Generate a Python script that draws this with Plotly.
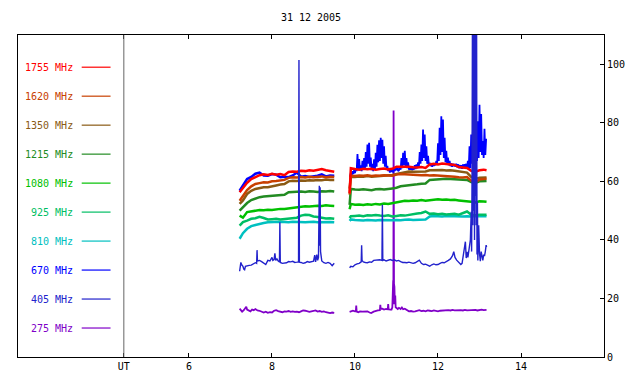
import numpy as np
import plotly.graph_objects as go

# ---------------- data ----------------
TITLE = "31 12 2005"
FREQ_LABELS = ["1755 MHz", "1620 MHz", "1350 MHz", "1215 MHz", "1080 MHz",
               "925 MHz", "810 MHz", "670 MHz", "405 MHz", "275 MHz"]
COLORS = ["#ff0000", "#c84000", "#8a5a14", "#228b22", "#00c000",
          "#00be64", "#00c0c0", "#0000ff", "#2222cc", "#8000c8"]
LEGEND_Y = [99.0, 89.1, 79.2, 69.3, 59.4, 49.5, 39.6, 29.7, 19.8, 9.9]

X_TICKS = [4.43, 6, 8, 10, 12, 14]
X_TICKTEXT = ["UT", "6", "8", "10", "12", "14"]
Y_TICKS = [0, 20, 40, 60, 80, 100]

T1 = [7.22, 7.3, 7.4, 7.5, 7.6, 7.7, 7.8, 7.9, 8.0, 8.1, 8.2, 8.3, 8.4, 8.5,
      8.6, 8.7, 8.8, 8.9, 9.0, 9.1, 9.2, 9.3, 9.4, 9.5]
T2 = [9.87, 9.9, 10.0, 10.1, 10.2, 10.3, 10.4, 10.5, 10.6, 10.7, 10.8, 10.9,
      11.0, 11.1, 11.2, 11.3, 11.4, 11.5, 11.6, 11.7, 11.8, 11.9,
      12.0, 12.1, 12.2, 12.3, 12.4, 12.5, 12.6, 12.7, 12.8, 12.9,
      13.0, 13.1, 13.17]

V1755_A = [56.3, 57.8, 59.5, 60.8, 61.5, 62.1, 62.4, 62.2, 62.6, 62.3, 62.5, 62.1,
           63.2, 63.4, 63.3, 63.6, 63.5, 63.8, 63.6, 63.9, 64.2, 63.8, 63.6, 63.3]
V1755_B = [56.0, 64.5, 64.2, 64.0, 64.3, 64.1, 64.3, 64.0, 64.2, 64.4, 64.1, 64.3,
           65.0, 65.0, 65.2, 65.0, 64.8, 64.7, 64.9, 64.6, 65.8, 66.0,
           65.8, 66.1, 65.9, 65.8, 65.6, 64.9, 64.7, 64.6, 63.6, 63.3,
           63.8, 64.0, 63.8]

V1620_A = [53.4, 55.0, 57.0, 58.3, 59.1, 59.4, 59.7, 59.6, 60.0, 60.1, 60.3, 60.5,
           61.2, 61.4, 61.3, 61.5, 61.3, 61.6, 61.4, 61.5, 61.7, 61.4, 61.6, 61.5]
V1620_B = [55.5, 61.9, 61.8, 62.0, 61.9, 62.1, 61.8, 62.0, 61.9, 62.1, 62.0, 61.9,
           62.3, 62.5, 62.4, 62.3, 62.2, 62.3, 62.1, 62.2, 62.0, 62.1,
           62.0, 61.9, 62.0, 61.8, 61.6, 61.4, 61.3, 61.5, 60.2, 59.7,
           60.6, 60.8, 60.9]

V1350_A = [52.3, 53.5, 55.7, 56.8, 57.4, 57.7, 58.0, 58.0, 58.4, 58.6, 58.9, 59.1,
           60.0, 60.2, 60.1, 60.3, 60.2, 60.4, 60.3, 60.5, 60.4, 60.6, 60.5, 60.5]
V1350_B = [57.5, 61.6, 61.5, 61.7, 61.6, 61.8, 61.6, 61.7, 61.9, 61.8, 62.0, 62.2,
           62.5, 62.8, 63.2, 63.4, 63.3, 63.4, 63.5, 63.4, 63.8, 63.9,
           63.8, 63.9, 63.7, 63.8, 63.6, 63.4, 63.3, 63.0, 61.5, 60.8,
           61.2, 61.4, 61.3]

V1215_A = [50.0, 51.2, 52.6, 53.6, 54.2, 54.6, 54.8, 54.9, 55.1, 55.0, 55.3, 55.4,
           56.3, 56.4, 56.3, 56.5, 56.4, 56.6, 56.5, 56.4, 56.6, 56.5, 56.7, 56.5]
V1215_B = [52.0, 57.4, 57.2, 57.1, 57.3, 57.2, 57.0, 57.3, 57.4, 57.2, 57.5, 57.6,
           57.8, 58.3, 58.5, 58.6, 58.8, 59.0, 59.2, 59.3, 60.5, 60.6,
           60.8, 60.7, 60.9, 60.8, 60.7, 60.8, 60.6, 60.5, 59.8, 59.5,
           60.0, 60.2, 60.1]

V1080_A = [48.3, 47.6, 49.5, 49.8, 50.0, 50.2, 50.1, 50.3, 50.2, 50.5, 50.6, 50.6,
           50.8, 51.0, 51.2, 51.4, 51.5, 51.4, 51.6, 51.7, 51.6, 51.8, 51.7, 51.6]
V1080_B = [50.5, 52.3, 52.0, 52.1, 51.9, 52.2, 52.0, 52.3, 52.1, 52.4, 52.3, 52.6,
           53.0, 53.2, 53.4, 53.3, 53.5, 53.4, 53.6, 53.4, 53.5, 53.6,
           53.9, 53.7, 53.8, 53.6, 53.7, 53.5, 53.4, 53.3, 53.0, 52.8,
           53.2, 53.1, 53.0]

V925_A = [44.9, 46.1, 46.6, 47.2, 47.4, 47.9, 47.5, 47.0, 47.1, 47.2, 47.0, 47.1,
          47.3, 47.5, 47.6, 48.3, 48.6, 48.5, 48.0, 47.8, 47.5, 47.3, 47.4, 47.2]
V925_B = [47.5, 48.1, 48.2, 48.3, 48.1, 48.4, 48.3, 48.5, 48.3, 48.2, 48.4, 48.0,
          48.2, 48.4, 48.3, 48.6, 48.8, 49.0, 49.2, 49.7, 48.9, 49.0,
          48.8, 48.9, 48.7, 48.8, 48.9, 48.6, 49.2, 49.7, 48.6, 48.4,
          48.6, 48.5, 48.6]

V810_A = [40.4, 42.3, 43.8, 44.7, 45.1, 45.5, 45.8, 46.0, 46.1, 46.0, 46.2, 46.1,
          46.0, 46.2, 46.1, 46.2, 46.0, 46.1, 46.2, 46.0, 46.1, 46.0, 46.1, 46.0]
V810_B = [46.5, 47.0, 46.8, 46.7, 46.6, 46.8, 46.7, 46.6, 46.8, 46.7, 46.6, 46.7,
          46.8, 46.7, 46.9, 47.0, 46.8, 46.9, 47.1, 47.0, 48.0, 48.2,
          48.1, 48.0, 48.2, 48.1, 48.0, 47.9, 48.0, 48.1, 48.0, 48.2,
          48.1, 48.2, 48.1]

V670_A = [56.8, 58.5, 60.8, 61.5, 62.6, 63.0, 62.0, 61.9, 62.5, 62.3, 61.4, 61.6,
          61.4, 62.0, 63.0, 61.6, 61.8, 61.5, 61.6, 61.9, 62.4, 61.7, 62.0, 61.9]
T670_B_START = 9.88
T670_B_STEP = 0.02
V670_B = [61.5, 63.0, 62.0, 63.5, 62.5, 63.8, 62.8, 64.5, 63.5, 69.3,
          64.0, 67.6, 63.8, 65.5, 63.5, 67.0, 64.0, 68.0, 64.5, 70.0,
          65.0, 72.6, 66.0, 73.2, 65.0, 68.1, 63.8, 66.0, 63.5, 67.5,
          64.0, 69.8, 65.0, 72.5, 66.5, 74.0, 67.0, 74.9, 68.0, 74.2,
          66.0, 72.0, 65.0, 68.7, 64.0, 65.3, 63.5, 64.5, 63.0, 64.0,
          63.2, 64.2, 63.0, 64.5, 63.5, 64.8, 63.8, 64.6, 63.5, 63.8,
          65.0, 64.0, 68.0, 64.5, 69.8, 65.5, 70.4, 65.0, 68.0, 64.5,
          66.5, 64.0, 65.0, 64.0, 64.7, 63.8, 64.5, 64.0, 65.5, 64.2,
          65.8, 64.5, 66.5, 65.0, 70.0, 66.0, 72.6, 67.0, 77.7, 68.0,
          76.0, 67.0, 72.0, 66.0, 68.7, 65.5, 66.4, 65.2, 66.0, 65.0,
          66.2, 65.3, 66.0, 65.5, 67.0, 66.0, 73.0, 67.0, 78.3, 69.0,
          82.2, 70.0, 81.1, 68.0, 74.9, 66.5, 70.4, 66.0, 68.1, 65.5,
          67.0, 65.2, 66.2, 65.0, 66.0, 65.2, 65.9, 65.0, 66.0, 64.8,
          65.9, 64.5, 65.6, 64.5, 65.5, 64.3, 65.8, 64.5, 65.9, 64.6,
          66.0, 64.5, 67.0, 64.0, 72.0, 64.5, 76.0, 66.0, 77.0, 65.0,
          76.0, 66.0, 73.4, 67.0, 80.5, 68.0, 86.2, 70.0, 83.0, 69.0,
          73.8, 68.0, 78.0, 69.0, 74.6]

T405 = [7.22, 7.23, 7.25, 7.27, 7.30, 7.32, 7.34, 7.36, 7.40, 7.45, 7.50, 7.55,
        7.60, 7.63, 7.64, 7.65, 7.70, 7.75, 7.80, 7.85, 7.90, 7.95, 8.00, 8.02,
        8.05, 8.07, 8.09, 8.12, 8.15, 8.18, 8.19, 8.20, 8.25, 8.30, 8.35, 8.40,
        8.45, 8.50, 8.55, 8.60, 8.64, 8.65, 8.66, 8.70, 8.75, 8.80, 8.85, 8.90,
        8.95, 9.00, 9.03, 9.05, 9.08, 9.10, 9.12, 9.13, 9.14, 9.15, 9.16, 9.17,
        9.18, 9.20, 9.25, 9.30, 9.35, 9.40, 9.45, 9.50,
        None,
        9.87, 9.90, 9.95, 10.00, 10.05, 10.10, 10.15, 10.16, 10.17, 10.20, 10.25,
        10.30, 10.35, 10.40, 10.45, 10.50, 10.55, 10.60, 10.65, 10.66, 10.67,
        10.70, 10.75, 10.80, 10.85, 10.90, 10.95, 11.00, 11.05, 11.10, 11.15,
        11.20, 11.25, 11.30, 11.35, 11.40, 11.45, 11.50, 11.55, 11.60, 11.65,
        11.70, 11.75, 11.80, 11.85, 11.90, 11.95, 12.00, 12.05, 12.10, 12.15,
        12.20, 12.25, 12.30, 12.35, 12.38, 12.41, 12.45, 12.50, 12.55, 12.58,
        12.62, 12.64, 12.66, 12.68, 12.70, 12.72, 12.75, 12.78, 12.80, 12.81,
        12.82, 12.83, 12.84, 12.85, 12.86, 12.87, 12.88, 12.89, 12.90, 12.91,
        12.92, 12.93, 12.94, 12.95, 12.96, 12.98, 13.00, 13.02, 13.04, 13.06,
        13.08, 13.10, 13.12, 13.14, 13.16, 13.17]
V405 = [29.3, 31.5, 32.3, 31.5, 31.0, 30.0, 29.8, 31.0, 31.2, 31.3, 31.4, 31.8,
        32.2, 32.0, 36.5, 32.8, 33.0, 32.6, 32.0, 31.6, 33.0, 32.8, 34.0, 33.0,
        33.3, 35.4, 33.0, 33.5, 32.8, 32.5, 46.0, 32.3, 32.0, 32.0, 32.2, 32.6,
        32.5, 32.7, 32.3, 32.4, 32.5, 101.5, 32.4, 32.3, 32.0, 32.2, 32.6, 32.4,
        32.5, 32.7, 34.8, 32.5, 35.0, 33.0, 34.0, 45.0, 58.5, 38.0, 58.0, 36.0,
        34.0, 32.8, 32.2, 32.0, 32.3, 32.0, 31.2, 32.0,
        None,
        30.5, 31.0, 30.8, 31.5, 31.8, 32.0, 32.5, 38.2, 33.0, 32.5, 32.3,
        32.2, 32.5, 32.4, 33.0, 33.1, 33.0, 33.2, 33.0, 52.0, 33.0,
        33.2, 32.8, 33.0, 33.3, 33.0, 33.2, 32.8, 33.0, 32.6, 32.3,
        32.3, 32.2, 32.4, 32.3, 32.0, 32.2, 32.8, 33.1, 32.0, 31.6,
        31.7, 31.2, 31.0, 31.5, 31.8, 31.5, 31.6, 32.0, 32.3, 32.2,
        32.5, 33.0, 33.5, 34.6, 36.0, 34.0, 33.1, 32.2, 31.6, 32.0,
        35.9, 38.7, 39.4, 33.8, 35.9, 34.0, 37.0, 40.0, 49.6, 36.0,
        60.0, 115.0, 45.0, 115.0, 50.0, 115.0, 40.0, 115.0, 55.0, 115.0,
        45.0, 115.0, 35.0, 53.0, 33.0, 45.0, 35.4, 32.7, 36.0, 34.0,
        33.0, 35.0, 34.5, 36.0, 38.2, 37.5]

T275 = [7.22, 7.25, 7.28, 7.32, 7.36, 7.38, 7.40, 7.44, 7.48, 7.52, 7.56, 7.60,
        7.65, 7.70, 7.75, 7.80, 7.85, 7.90, 7.95, 8.00, 8.05, 8.10, 8.15, 8.20,
        8.25, 8.30, 8.35, 8.40, 8.45, 8.50, 8.55, 8.60, 8.65, 8.70, 8.75, 8.80,
        8.85, 8.90, 8.95, 9.00, 9.05, 9.10, 9.15, 9.20, 9.25, 9.30, 9.35, 9.40,
        9.45, 9.50,
        None,
        9.87, 9.90, 9.95, 10.00, 10.02, 10.03, 10.04, 10.08, 10.12, 10.18, 10.25,
        10.30, 10.35, 10.39, 10.45, 10.50, 10.55, 10.60, 10.61, 10.62, 10.66,
        10.70, 10.75, 10.79, 10.80, 10.81, 10.85, 10.88, 10.90, 10.91, 10.92,
        10.925, 10.93, 10.935, 10.94, 10.95, 10.96, 10.97, 10.98, 11.00, 11.03,
        11.06, 11.10, 11.13, 11.16, 11.20, 11.25, 11.30, 11.35, 11.40, 11.45,
        11.50, 11.55, 11.60, 11.65, 11.70, 11.75, 11.80, 11.85, 11.90, 11.95,
        12.00, 12.05, 12.10, 12.15, 12.20, 12.25, 12.30, 12.35, 12.40, 12.45,
        12.50, 12.55, 12.60, 12.65, 12.70, 12.75, 12.80, 12.85, 12.90, 12.95,
        13.00, 13.05, 13.10, 13.17]
V275 = [16.5, 15.8, 15.5, 16.0, 16.6, 17.2, 16.2, 15.8, 15.6, 16.2, 16.0, 16.4,
        15.9, 15.8, 15.4, 15.2, 15.5, 15.1, 15.3, 15.2, 15.8, 16.0, 15.7, 15.5,
        15.3, 15.6, 15.5, 15.7, 15.4, 15.6, 15.4, 15.5, 15.3, 15.6, 15.9, 15.8,
        15.5, 15.4, 15.6, 15.7, 15.9, 15.5, 15.7, 15.4, 15.6, 15.3, 15.1, 15.0,
        15.2, 15.1,
        None,
        15.4, 15.5, 15.8, 15.6, 15.6, 17.6, 15.5, 15.3, 15.6, 15.5, 15.7,
        15.6, 15.2, 15.0, 15.5, 15.8, 15.9, 16.0, 17.8, 16.4, 16.5,
        16.2, 16.4, 16.3, 18.1, 16.3, 16.2, 16.2, 17.0, 22.0, 26.0,
        18.0, 84.2, 20.0, 25.0, 24.0, 18.0, 21.0, 17.0, 16.8, 16.4,
        16.8, 16.4, 16.9, 16.3, 16.5, 16.0, 15.6, 15.7, 15.5, 15.6,
        15.7, 16.0, 15.7, 15.8, 15.6, 15.9, 15.8, 15.7, 15.9, 15.8,
        15.6, 15.8, 15.9, 15.8, 15.9, 16.0, 15.9, 16.1, 15.9, 16.0,
        15.9, 16.0, 15.9, 16.1, 15.9, 16.0, 15.9, 16.0, 16.1, 15.9,
        16.1, 16.2, 16.0, 16.1]

# ---------------- figure ----------------
FONT = "DejaVu Sans Mono"
fig = go.Figure()


def two_seg(a, b):
    return list(T1) + [None] + list(T2), list(a) + [None] + list(b)


# 275 MHz (drawn first, beneath everything)
fig.add_trace(go.Scatter(x=T275, y=V275, mode="lines", connectgaps=False,
                         line=dict(color=COLORS[9], width=1.8), hoverinfo="skip"))

# 670 MHz
t670b = [round(T670_B_START + T670_B_STEP * i, 3) for i in range(len(V670_B))]
fig.add_trace(go.Scatter(x=T1, y=V670_A, mode="lines",
                         line=dict(color=COLORS[7], width=2.5), hoverinfo="skip"))
fig.add_trace(go.Scatter(x=t670b, y=V670_B, mode="lines",
                         line=dict(color=COLORS[7], width=1.8), hoverinfo="skip"))

smooth = [(V1755_A, V1755_B, 0), (V1620_A, V1620_B, 1), (V1350_A, V1350_B, 2),
          (V1215_A, V1215_B, 3), (V1080_A, V1080_B, 4), (V925_A, V925_B, 5),
          (V810_A, V810_B, 6)]
for a, b, ci in reversed(smooth):
    xs, ys = two_seg(a, b)
    fig.add_trace(go.Scatter(x=xs, y=ys, mode="lines", connectgaps=False,
                             line=dict(color=COLORS[ci], width=2.5),
                             hoverinfo="skip"))

# 405 MHz on top
fig.add_trace(go.Scatter(x=T405, y=V405, mode="lines", connectgaps=False,
                         line=dict(color=COLORS[8], width=1.4), hoverinfo="skip"))

# legend panel (text + sample lines)
LEG_TEXT_X = 3.25
LEG_LINE_X0, LEG_LINE_X1 = 3.415, 4.11
shapes = []
annotations = []
for lab, col, yv in zip(FREQ_LABELS, COLORS, LEGEND_Y):
    annotations.append(dict(x=LEG_TEXT_X, y=yv, xref="x", yref="y", text=lab,
                            showarrow=False, xanchor="right", yanchor="middle",
                            font=dict(family=FONT, size=10, color=col)))
    shapes.append(dict(type="line", xref="x", yref="y", x0=LEG_LINE_X0,
                       x1=LEG_LINE_X1, y0=yv, y1=yv,
                       line=dict(color=col, width=1.2)))

# UT separator line
shapes.append(dict(type="line", xref="x", yref="paper", x0=X_TICKS[0],
                   x1=X_TICKS[0], y0=0, y1=1, line=dict(color="#666666", width=1)))

fig.update_layout(
    width=640, height=384, autosize=False,
    margin=dict(l=18, r=36, t=35, b=25, pad=0),
    paper_bgcolor="white", plot_bgcolor="white",
    showlegend=False,
    title=dict(text=TITLE, x=0.5, xref="paper", y=1 - 17 / 384, yref="container",
               xanchor="center", yanchor="middle",
               font=dict(family=FONT, size=10, color="black")),
    shapes=shapes, annotations=annotations,
    font=dict(family=FONT, size=10, color="black"),
)
fig.update_xaxes(range=[1.88, 16.0], tickvals=X_TICKS, ticktext=X_TICKTEXT,
                 ticks="inside", ticklen=4, tickcolor="black",
                 showline=True, linecolor="black", linewidth=1, mirror="ticks",
                 showgrid=False, zeroline=False,
                 tickfont=dict(family=FONT, size=10, color="black"))
fig.update_yaxes(range=[0, 110], tickvals=Y_TICKS, side="right",
                 ticks="inside", ticklen=4, tickcolor="black",
                 showline=True, linecolor="black", linewidth=1, mirror=True,
                 showgrid=False, zeroline=False,
                 tickfont=dict(family=FONT, size=10, color="black"))

fig.write_html("out.html", config={"displayModeBar": False},
               post_script="document.body.style.margin='0';"
                           "document.body.style.padding='0';")
